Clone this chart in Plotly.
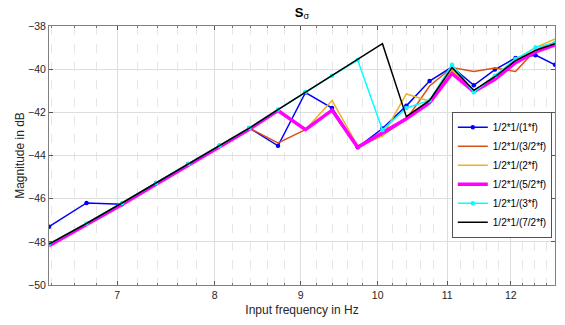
import plotly.graph_objects as go

# Input frequencies (Hz)
freq = [6.375, 6.711, 7.046, 7.382, 7.717, 8.053, 8.388, 8.724, 9.059, 9.395,
        9.730, 10.066, 10.401, 10.737, 11.072, 11.408, 11.743, 12.079, 12.414, 12.75]

# Magnitudes in dB
s_1 = [-47.3, -46.2, -46.26, -45.27, -44.39, -43.55, -42.73, -43.55, -41.08, -41.8,
       -43.62, -42.75, -41.7, -40.55, -39.9, -40.75, -40.02, -39.48, -39.35, -39.8]
s_3_2 = [-48.1, -47.15, -46.2, -45.27, -44.39, -43.55, -42.73, -43.42, -42.8, -41.9,
         -43.62, -43.05, -42.33, -40.78, -39.92, -40.11, -39.95, -40.11, -39.11, -38.75]
s_2 = [-48.1, -47.15, -46.2, -45.27, -44.39, -43.55, -42.73, -41.87, -42.8, -41.45,
       -43.55, -43.1, -41.15, -41.48, -40.05, -41.04, -40.3, -39.58, -39.0, -38.6]
s_5_2 = [-48.18, -47.22, -46.27, -45.33, -44.45, -43.6, -42.78, -41.92, -42.8, -41.9,
         -43.62, -42.95, -42.3, -41.56, -40.2, -41.04, -40.47, -39.7, -39.2, -38.88]
s_3 = [-48.1, -47.15, -46.2, -45.27, -44.39, -43.55, -42.73, -41.87, -41.06, -40.3,
       -39.58, -42.82, -41.8, -41.45, -39.8, -41.07, -40.3, -39.53, -39.0, -38.78]
s_7_2 = [-48.1, -47.15, -46.2, -45.27, -44.39, -43.55, -42.73, -41.87, -41.06, -40.3,
         -39.56, -38.82, -42.2, -41.45, -39.93, -40.98, -40.35, -39.6, -39.13, -38.82]

series = [s_1, s_3_2, s_2, s_5_2, s_3, s_7_2]
names = ["1/2*1/(1*f)", "1/2*1/(3/2*f)", "1/2*1/(2*f)",
         "1/2*1/(5/2*f)", "1/2*1/(3*f)", "1/2*1/(7/2*f)"]

x_ticks = [7, 8, 9, 10, 11, 12]
x_minor = [6.4, 6.6, 6.8, 7.2, 7.4, 7.6, 7.8, 8.2, 8.4, 8.6, 8.8, 9.2, 9.4, 9.6, 9.8,
           10.2, 10.4, 10.6, 10.8, 11.2, 11.4, 11.6, 11.8, 12.2, 12.4, 12.6]
y_ticks = [-50, -48, -46, -44, -42, -40, -38]

colors = ["#0000FF", "#D95319", "#EDB120", "#FF00FF", "#00FFFF", "#000000"]
widths = [1.5, 1.5, 1.5, 3.5, 1.5, 1.5]
modes = ["lines+markers", "lines", "lines", "lines", "lines+markers", "lines"]

FONT = "Liberation Sans, Arial, sans-serif"
TXT = "#262626"

fig = go.Figure()
for ys, nm, c, w, m in zip(series, names, colors, widths, modes):
    fig.add_trace(go.Scatter(
        x=freq, y=ys, name=nm, mode=m,
        line=dict(color=c, width=w),
        marker=dict(color=c, size=4.5),
    ))

fig.update_layout(
    width=565, height=325,
    margin=dict(l=49, r=10, t=26, b=40),
    paper_bgcolor="white", plot_bgcolor="white",
    font=dict(family=FONT, size=10.5, color=TXT),
    title=dict(text="<b>S</b><sub>σ</sub>", x=0.5, xref="paper",
               y=1 - 12 / 325, yref="container", yanchor="middle",
               font=dict(family=FONT, size=13, color="#000000")),
    showlegend=True,
    legend=dict(x=(552 - 49) / 506, xanchor="right", y=(285 - 238) / 259, yanchor="bottom",
                bgcolor="white", bordercolor="#262626", borderwidth=0.8,
                font=dict(family=FONT, size=10, color="#000000"),
                tracegroupgap=0),
)

fig.update_xaxes(
    type="log", range=[0.804480, 1.105510],
    tickmode="array", tickvals=x_ticks, ticktext=[str(t) for t in x_ticks],
    ticks="inside", ticklen=4, tickcolor="#555555",
    showline=True, linecolor="#808080", linewidth=1, mirror="ticks",
    showgrid=True, gridcolor="#dedede", gridwidth=1,
    minor=dict(tickmode="array", tickvals=x_minor, ticks="inside", ticklen=2,
               tickcolor="#777777", showgrid=True, gridcolor="#e6e6e6",
               griddash="dash", gridwidth=1),
    zeroline=False,
    title=dict(text="Input frequency in Hz", font=dict(family=FONT, size=12, color=TXT),
               standoff=6),
)
fig.update_yaxes(
    range=[-50, -38], tickmode="array", tickvals=y_ticks,
    ticks="inside", ticklen=4, tickcolor="#555555",
    showline=True, linecolor="#808080", linewidth=1, mirror="ticks",
    showgrid=True, gridcolor="#dedede", gridwidth=1,
    zeroline=False,
    title=dict(text="Magnitude in dB", font=dict(family=FONT, size=12, color=TXT),
               standoff=0),
)

fig.write_html("out.html")
